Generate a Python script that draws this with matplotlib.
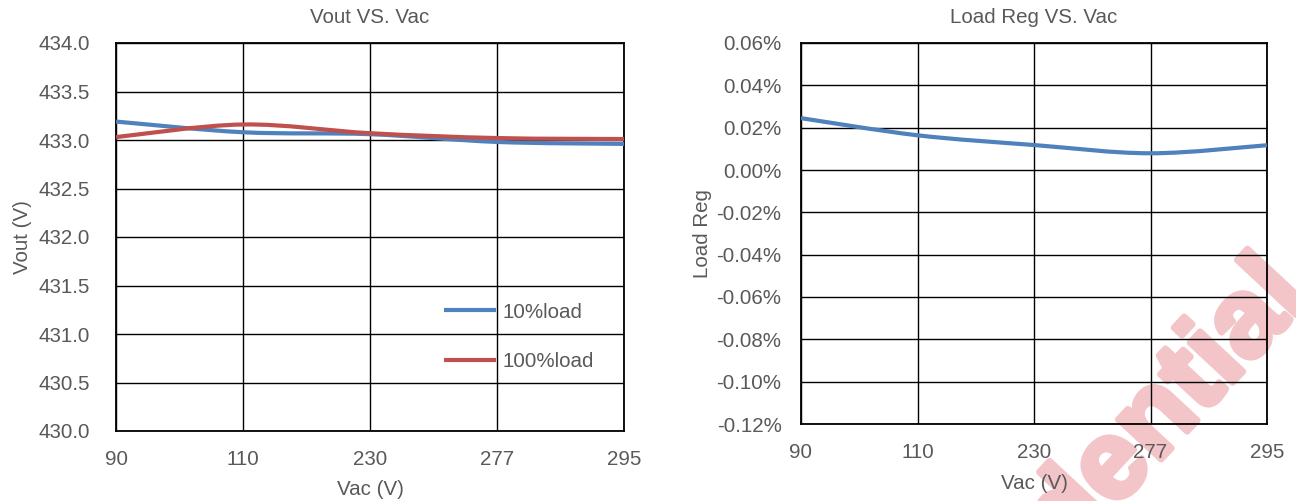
import numpy as np
import matplotlib.pyplot as plt
import matplotlib.patheffects as pe
from matplotlib.path import Path
from matplotlib.patches import PathPatch
from matplotlib.lines import Line2D
from matplotlib.ticker import FuncFormatter

plt.rcParams['font.family'] = ['Liberation Sans', 'DejaVu Sans']

# input voltage categories (evenly spaced on the x axis)
vac_labels = ['90', '110', '230', '277', '295']

# output voltage (V) at each input voltage
vout_10load = [433.19, 433.08, 433.06, 432.98, 432.96]
vout_100load = [433.03, 433.16, 433.07, 433.02, 433.01]

# load regulation (%)
load_reg = [0.0245, 0.0164, 0.0118, 0.0079, 0.0117]

vout_ticks = [430.0, 430.5, 431.0, 431.5, 432.0, 432.5, 433.0, 433.5, 434.0]
reg_ticks = [-0.12, -0.10, -0.08, -0.06, -0.04, -0.02, 0.0, 0.02, 0.04, 0.06]

TEXT = '#595959'
BLUE = '#4F81BD'
RED = '#C0504D'
WM = '#F3C4C8'
FS = 14.8


def smooth_path(xs, ys):
    # bezier curve through the points, like a spreadsheet "smoothed line"
    pts = np.column_stack([xs, ys]).astype(float)
    n = len(pts)
    verts = [pts[0]]
    codes = [Path.MOVETO]
    for i in range(n - 1):
        p0 = pts[max(i - 1, 0)]
        p1 = pts[i]
        p2 = pts[i + 1]
        p3 = pts[min(i + 2, n - 1)]
        verts += [p1 + (p2 - p0) / 6, p2 - (p3 - p1) / 6, p2]
        codes += [Path.CURVE4] * 3
    return Path(verts, codes)


def style_axes(ax, ticks, title, ylabel, title_y):
    x = np.arange(len(vac_labels))
    ax.set_facecolor('none')
    ax.set_xlim(0, len(vac_labels) - 1)
    ax.set_ylim(ticks[0], ticks[-1])
    ax.set_xticks(x)
    ax.set_xticklabels(vac_labels)
    ax.set_yticks(ticks)
    ax.tick_params(length=0, labelsize=FS, labelcolor=TEXT)
    ax.tick_params(axis='x', pad=14)
    ax.grid(True, color='black', lw=1.0)
    for sp in ax.spines.values():
        sp.set_color('black')
        sp.set_linewidth(1.3)
    ax.set_title(title, fontsize=FS, color=TEXT, y=title_y, va='center', pad=0)
    ax.set_xlabel('Vac (V)', fontsize=FS, color=TEXT, va='center')
    ax.set_ylabel(ylabel, fontsize=FS, color=TEXT, va='center')


fig = plt.figure(figsize=(12.96, 5.01), dpi=100)

# watermark sits behind both charts
fig.text(1.012, 0.405, 'Confidential', rotation=47, rotation_mode='anchor',
         ha='right', va='baseline', fontsize=80, fontweight='bold',
         color=WM, zorder=-1,
         path_effects=[pe.withStroke(linewidth=4.5, foreground=WM)])

ax1 = fig.add_axes([116 / 1296, 1 - 431 / 501, 508 / 1296, 388 / 501])
style_axes(ax1, vout_ticks, 'Vout VS. Vac', 'Vout (V)', 1.065)
ax1.yaxis.set_major_formatter(FuncFormatter(lambda v, p: f'{v:.1f}'))
ax1.tick_params(axis='y', pad=19)
ax1.yaxis.set_label_coords(-0.185, 0.5)
ax1.xaxis.set_label_coords(0.5, -0.152)

xs = np.arange(len(vac_labels))
ax1.add_patch(PathPatch(smooth_path(xs, vout_10load), fc='none', ec=BLUE,
                        lw=3, capstyle='butt', zorder=3))
ax1.add_patch(PathPatch(smooth_path(xs, vout_100load), fc='none', ec=RED,
                        lw=3, capstyle='butt', zorder=3))
handles = [Line2D([], [], color=BLUE, lw=3, solid_capstyle='butt'),
           Line2D([], [], color=RED, lw=3, solid_capstyle='butt')]
leg = ax1.legend(handles, ['10%load', '100%load'], loc='upper left',
                 bbox_to_anchor=(0.646, 0.331), frameon=False, borderpad=0,
                 borderaxespad=0, handlelength=2.5, handletextpad=0.35,
                 labelspacing=1.5, fontsize=FS)
for t in leg.get_texts():
    t.set_color(TEXT)

ax2 = fig.add_axes([801 / 1296, 1 - 424 / 501, 466 / 1296, 381 / 501])
style_axes(ax2, reg_ticks, 'Load Reg VS. Vac', 'Load Reg', 1.068)
ax2.yaxis.set_major_formatter(FuncFormatter(lambda v, p: f'{v:.2f}%'))
ax2.tick_params(axis='y', pad=14)
ax2.yaxis.set_label_coords(-0.212, 0.5)
ax2.xaxis.set_label_coords(0.5, -0.155)
ax2.add_patch(PathPatch(smooth_path(xs, load_reg), fc='none', ec=BLUE,
                        lw=3, capstyle='butt', zorder=3))

fig.savefig('out.png', dpi=100)
